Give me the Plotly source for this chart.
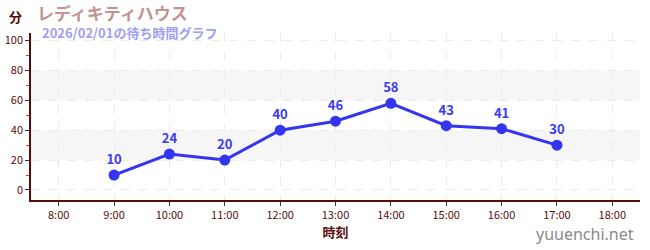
import plotly.graph_objects as go

hours = [9, 10, 11, 12, 13, 14, 15, 16, 17]
waits = [10, 24, 20, 40, 46, 58, 43, 41, 30]
tick_vals = [8, 9, 10, 11, 12, 13, 14, 15, 16, 17, 18]
tick_text = ["8:00", "9:00", "10:00", "11:00", "12:00", "13:00", "14:00", "15:00", "16:00", "17:00", "18:00"]
y_ticks = [0, 20, 40, 60, 80, 100]
bands = [(20, 40), (60, 80)]

title = "レディキティハウス"
subtitle = "2026/02/01の待ち時間グラフ"
FONT = "Noto Sans CJK JP"
AXC = "#5a0a0a"

W, H = 650, 250
ml, mr, mt, mb = 31, 10, 33, 50
pw, ph = W - ml - mr, H - mt - mb

def px2paper(px, py):
    return (px - ml) / pw, 1 - (py - mt) / ph

fig = go.Figure()
fig.add_trace(go.Scatter(
    x=hours, y=waits, mode="lines+markers+text",
    text=[str(v) for v in waits], textposition="top center",
    textfont=dict(color="#3a3af0", size=13, family=FONT, weight="bold"),
    line=dict(color="#3535f0", width=3),
    marker=dict(color="#3535f0", size=11),
    cliponaxis=False, hoverinfo="skip", showlegend=False,
))
for lo, hi in bands:
    fig.add_hrect(y0=lo, y1=hi, fillcolor="#f6f6f6", line_width=0, layer="below")

anns = []
for txt, px, py, anchor, font in [
    ("分", 15, 17, "center", dict(size=13, color=AXC, weight="bold")),
    (title, 35, 12, "left", dict(size=17, color="#c49292", weight="bold")),
    (subtitle, 40, 32, "left", dict(size=13, color="#a0a0f0", weight="bold")),
    ("yuuenchi.net", 636, 234, "right", dict(size=16, color="#8a8a8a", family="Noto Sans")),
]:
    x, y = px2paper(px, py)
    anns.append(dict(text=txt, x=x, y=y, xref="paper", yref="paper", showarrow=False,
                     xanchor=anchor, yanchor="middle", font=font))

fig.update_layout(
    width=W, height=H,
    margin=dict(l=ml, r=mr, t=mt, b=mb),
    paper_bgcolor="white", plot_bgcolor="white",
    font=dict(family=FONT, color=AXC),
    xaxis=dict(
        range=[7.5, 18.5], tickmode="array", tickvals=tick_vals, ticktext=tick_text,
        automargin=False,
        showgrid=True, gridcolor="#ebebeb", griddash="dash", gridwidth=1,
        showline=True, linecolor=AXC, linewidth=1.5,
        ticks="outside", ticklen=4, tickcolor="#333", tickfont=dict(size=11, color=AXC),
        zeroline=False,
        title=dict(text="時刻", font=dict(size=13, color=AXC, weight="bold"), standoff=6),
    ),
    yaxis=dict(
        range=[-6.7, 105], tickmode="array", tickvals=y_ticks,
        automargin=False,
        showgrid=True, gridcolor="#ebebeb", griddash="dash", gridwidth=1,
        showline=True, linecolor=AXC, linewidth=1.5,
        ticks="outside", ticklen=4, tickcolor="#333", tickfont=dict(size=11, color=AXC),
        zeroline=False,
        minor=dict(tickvals=[10, 30, 50, 70, 90], ticks="outside", ticklen=3, tickcolor="#e03030", showgrid=False),
    ),
    annotations=anns,
)

fig.write_html("out.html")
